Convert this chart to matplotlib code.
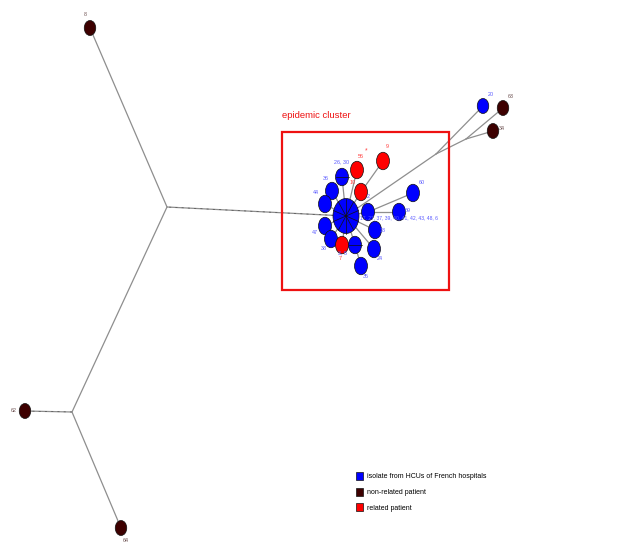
import numpy as np
import matplotlib
matplotlib.use("Agg")
import matplotlib.pyplot as plt
from matplotlib.patches import Ellipse, Rectangle, Patch

# ---- minimum spanning tree: nodes, groups, isolate counts ----
node_ids = ["hub", "n2", "n26_30", "n36", "n44", "n47", "n38", "n7", "n3_5",
            "n35", "n24", "n18", "n69", "n60", "n10", "n9", "n56",
            "n20", "n63", "n34", "n8", "n62", "n64",
            "jA", "jB", "j1", "j2"]
node_text = {
    "hub": "17, 27, 37, 39, 40, 41, 42, 43, 48, 6", "n2": "2", "n26_30": "26, 30",
    "n36": "36", "n44": "44", "n47": "47", "n38": "38", "n7": "7", "n3_5": "3, 5",
    "n35": "35", "n24": "24", "n18": "18", "n69": "69", "n60": "60", "n10": "10",
    "n9": "9", "n56": "56", "n20": "20", "n63": "63", "n34": "34", "n8": "8",
    "n62": "62", "n64": "64",
}
node_group = {
    "hub": "hcu", "n2": "hcu", "n26_30": "hcu", "n36": "hcu", "n44": "hcu",
    "n47": "hcu", "n38": "hcu", "n7": "rel", "n3_5": "hcu", "n35": "hcu",
    "n24": "hcu", "n18": "hcu", "n69": "hcu", "n60": "hcu", "n10": "rel",
    "n9": "rel", "n56": "rel", "n20": "hcu", "n63": "non", "n34": "non",
    "n8": "non", "n62": "non", "n64": "non",
}
n_isolates = {"hub": 10, "n26_30": 2, "n3_5": 2}

edges = [("hub", "n26_30"), ("hub", "n36"), ("hub", "n44"), ("hub", "n47"),
         ("hub", "n38"), ("hub", "n7"), ("hub", "n3_5"), ("n3_5", "n35"),
         ("hub", "n24"), ("hub", "n18"), ("hub", "n2"), ("n2", "n69"),
         ("n2", "n60"), ("hub", "n10"), ("n10", "n9"), ("hub", "n56"),
         ("hub", "j1"), ("j1", "n20"), ("j1", "j2"), ("j2", "n63"), ("j2", "n34"),
         ("hub", "jA"), ("jA", "n8"), ("jA", "jB"), ("jB", "n62"), ("jB", "n64")]

legend_labels = ["isolate from HCUs of French hospitals", "non-related patient",
                 "related patient"]
cluster_title = "epidemic cluster"

# ---- layout (pixel space) ----
pos = {
    "hub": (346, 216), "n2": (368, 212), "n26_30": (342, 177), "n36": (332, 191),
    "n44": (325, 204), "n47": (325, 226), "n38": (331, 239), "n7": (342, 245),
    "n3_5": (355, 245), "n35": (361, 266), "n24": (374, 249), "n18": (375, 230),
    "n69": (399, 212), "n60": (413, 193), "n10": (361, 192), "n9": (383, 161),
    "n56": (357, 170), "n20": (483, 106), "n63": (503, 108), "n34": (493, 131),
    "n8": (90, 28), "n62": (25, 411), "n64": (121, 528),
    "jA": (167, 207), "jB": (72, 412), "j1": (436, 154), "j2": (466, 139),
}
label_pos = {
    "hub": (360, 218), "n2": (368, 197), "n26_30": (342, 162), "n36": (326, 178),
    "n44": (316, 193), "n47": (315, 232), "n38": (324, 248), "n7": (340, 258),
    "n3_5": (343, 253), "n35": (366, 277), "n24": (380, 259), "n18": (383, 230),
    "n69": (408, 211), "n60": (422, 183), "n10": (353, 182), "n9": (387, 147),
    "n56": (361, 156), "n20": (491, 94), "n63": (511, 97), "n34": (502, 128),
    "n8": (85, 15), "n62": (14, 410), "n64": (126, 540),
}
fill = {"hcu": "#0000ff", "non": "#3d0000", "rel": "#ff0000"}
text_col = {"hcu": "#5a5aff", "non": "#6e5252", "rel": "#ff3c3c"}

fig = plt.figure(figsize=(6.25, 5.47), dpi=100)
ax = fig.add_axes([0, 0, 1, 1])
ax.set_xlim(0, 625)
ax.set_ylim(547, 0)
ax.axis("off")

# edges
for a, b in edges:
    (x0, y0), (x1, y1) = pos[a], pos[b]
    ax.plot([x0, x1], [y0, y1], color="#8e8e8e", lw=0.9, zorder=1,
            solid_capstyle="round")
    if (a, b) in [("hub", "jA"), ("jB", "n62")]:
        ax.plot([x0, x1], [y0, y1], color="#555555", lw=0.5, zorder=1,
                dashes=(3, 6))

# nodes
for nid in node_ids:
    if nid not in node_group:
        continue
    x, y = pos[nid]
    if nid == "hub":
        w, h = 26, 35
    elif node_group[nid] == "non" or nid == "n20":
        w, h = 11.5, 15
    else:
        w, h = 13, 17.5
    ax.add_patch(Ellipse((x, y), w, h, facecolor=fill[node_group[nid]],
                         edgecolor="#111111", lw=0.5, zorder=3))
    k = n_isolates.get(nid, 1)
    if k == 2:
        ax.plot([x - w / 2, x + w / 2], [y, y], color="#111111", lw=0.5, zorder=4)
    elif k > 2:
        for t in np.arange(k) * 2 * np.pi / k + np.pi / 2:
            ax.plot([x, x + w / 2 * np.cos(t)], [y, y + h / 2 * np.sin(t)],
                    color="#111111", lw=0.5, zorder=4)

# node labels
for nid, txt in node_text.items():
    lx, ly = label_pos[nid]
    ax.text(lx, ly, txt, fontsize=3.6 if nid == "hub" else 3.9,
            family="Liberation Sans", color=text_col[node_group[nid]],
            ha="left" if nid == "hub" else "center", va="center", zorder=5)
ax.text(366, 151, "*", fontsize=4.8, color="#ff3c3c", ha="center", va="center",
        family="Liberation Sans", zorder=5)

# cluster frame
ax.add_patch(Rectangle((281.5, 131.5), 167, 158, fill=False,
                       edgecolor="#ee1111", lw=1.6, zorder=2))
ax.text(282, 116, cluster_title, fontsize=6.8, family="Liberation Sans",
        color="#ee1111", ha="left", va="center")

# legend
handles = [Patch(facecolor=fill[g], edgecolor="#111111", lw=0.5)
           for g in ["hcu", "non", "rel"]]
ax.legend(handles, legend_labels, loc="upper left",
          bbox_to_anchor=(354 / 625, 1 - 470 / 547), frameon=False,
          prop={"family": "Liberation Sans", "size": 5.0},
          handlelength=1.0, handleheight=1.4, handletextpad=0.6,
          labelspacing=1.05, borderaxespad=0, borderpad=0.3)

fig.savefig("out.png", dpi=100)
